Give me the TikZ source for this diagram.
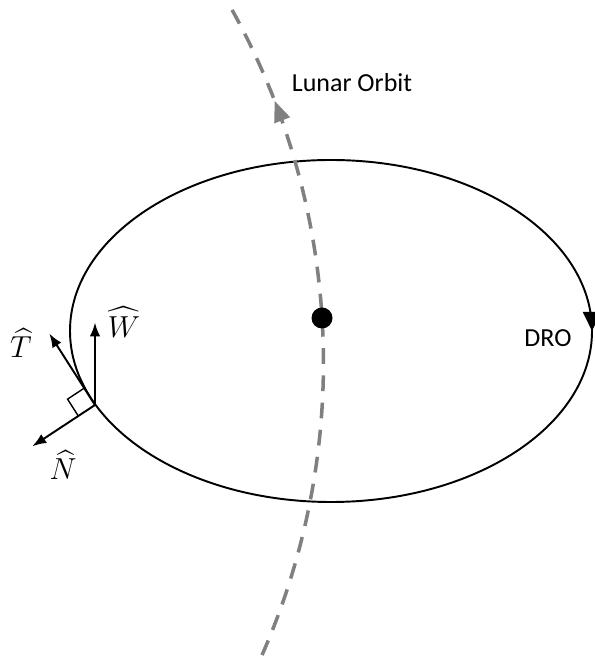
\documentclass[tikz,border=0pt]{standalone}
\usepackage{amsmath}
\usepackage{fontspec}
\setmainfont{Carlito}
\usetikzlibrary{arrows.meta,calc,decorations.markings}

\begin{document}
\begin{tikzpicture}[font=\fontsize{14.8}{17}\selectfont,>=Latex]
    \tikzset{
      dro/.style={line width=1.1pt},
      lunar/.style={color=black!50, line width=2pt, dash pattern=on 9pt off 6.5pt},
      vec/.style={->, line width=1.1pt},
      hatlbl/.style={font=\fontsize{16}{18}\selectfont, inner sep=1pt}
    }
    \useasboundingbox (0,0) rectangle (11.9,13.14);
    \coordinate (ctr) at (6.62,6.52);
    \coordinate (lc) at (-8.06,5.886);

    \draw[dro, postaction={decorate, decoration={markings,
        mark=at position 0.25 with {\arrow{Triangle[length=0.38cm,width=0.36cm]}}}}]
      ($(ctr)+(0,3.42)$) arc[start angle=90, end angle=-270, x radius=5.22, y radius=3.42];
    \draw[lunar, postaction={decorate, decoration={markings,
        mark=at position 0.85 with {\arrow{Triangle[length=0.42cm,width=0.32cm]}}}}]
      ($(lc)+(-23.73:14.53)$) arc[start angle=-23.73, end angle=29.05, radius=14.53];

    \node[circle, fill, minimum size=0.42cm, inner sep=0pt] (moon) at (6.44,6.78) {};
    \node (lunarlbl) at (7.04,11.48) {Lunar Orbit};
    \node (drolbl) at (10.96,6.38) {DRO};

    \coordinate (sc) at (1.9,5.04);
    \coordinate (ttip) at ($(sc)+(-0.914,1.43)$);
    \coordinate (wtip) at ($(sc)+(0,1.65)$);
    \coordinate (ntip) at ($(sc)+(-1.254,-0.826)$);
    \draw[vec] (sc) -- (ttip);
    \draw[vec] (sc) -- (wtip);
    \draw[vec] (sc) -- (ntip);
    \draw[line width=0.8pt] (sc) ++(-0.334,-0.22) -- ++(-0.215,0.337) -- ++(0.334,0.22);
    \node[hatlbl] (tlbl) at (0.42,6.28) {$\widehat{T}$};
    \node[hatlbl] (wlbl) at (2.48,6.7) {$\widehat{W}$};
    \node[hatlbl] (nlbl) at (1.26,3.84) {$\widehat{N}$};
\end{tikzpicture}
\end{document}
